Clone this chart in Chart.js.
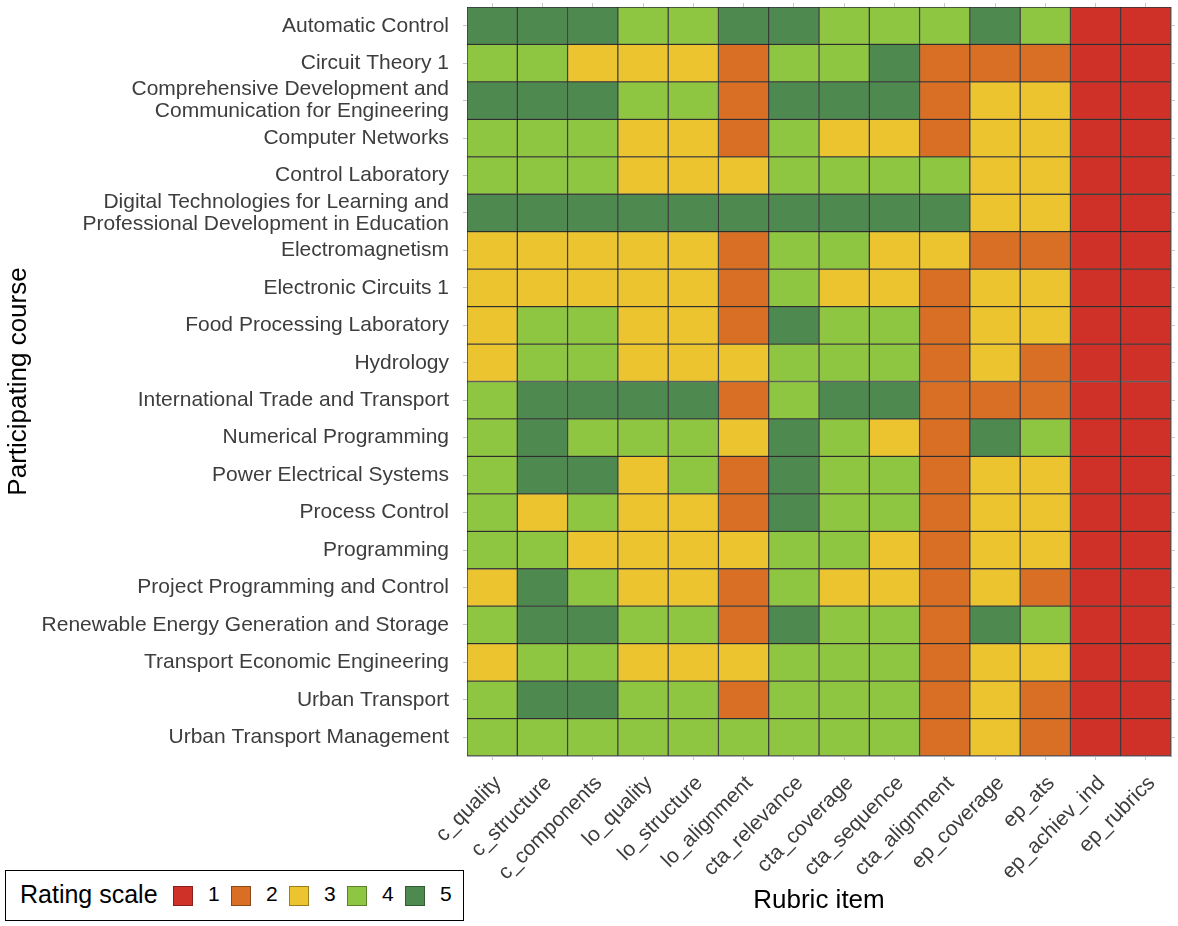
<!DOCTYPE html>
<html lang="en">
<head>
    <meta charset="UTF-8">
    <title>Rubric ratings per course</title>
    <script src="https://cdn.jsdelivr.net/npm/chart.js"></script>
    <style>
        body {
            margin: 0;
            padding: 0;
            background: #fff;
            font-family: "Liberation Sans", Arial, sans-serif;
        }

        .chart-container {
            width: 1178px;
            height: 926px;
            position: relative;
        }

        .legend-box {
            position: absolute;
            left: 5px;
            top: 870px;
            width: 457px;
            height: 49px;
            border: 1.5px solid #000;
            background: #fff;
        }

        .legend-title {
            position: absolute;
            left: 14px;
            top: 9px;
            font-size: 25px;
            color: #000;
        }

        .legend-swatch {
            position: absolute;
            top: 15px;
            width: 18px;
            height: 18px;
            border: 1px solid rgba(0, 0, 0, 0.35);
        }

        .legend-label {
            position: absolute;
            top: 11px;
            font-size: 21px;
            color: #000;
        }
    </style>
</head>
<body>
    <div class="chart-container">
        <canvas id="rubricChart"></canvas>
        <div class="legend-box" id="legend">
            <span class="legend-title">Rating scale</span>
        </div>
    </div>

    <script>
        const courses = [
            'Automatic Control',
            'Circuit Theory 1',
            ['Comprehensive Development and', 'Communication for Engineering'],
            'Computer Networks',
            'Control Laboratory',
            ['Digital Technologies for Learning and', 'Professional Development in Education'],
            'Electromagnetism',
            'Electronic Circuits 1',
            'Food Processing Laboratory',
            'Hydrology',
            'International Trade and Transport',
            'Numerical Programming',
            'Power Electrical Systems',
            'Process Control',
            'Programming',
            'Project Programming and Control',
            'Renewable Energy Generation and Storage',
            'Transport Economic Engineering',
            'Urban Transport',
            'Urban Transport Management'
        ];

        const rubricItems = ['c_quality', 'c_structure', 'c_components', 'lo_quality', 'lo_structure',
            'lo_alignment', 'cta_relevance', 'cta_coverage', 'cta_sequence', 'cta_alignment',
            'ep_coverage', 'ep_ats', 'ep_achiev_ind', 'ep_rubrics'];

        // ratings per rubric item, one value per course (same order as courses)
        const c_quality     = [5, 4, 5, 4, 4, 5, 3, 3, 3, 3, 4, 4, 4, 4, 4, 3, 4, 3, 4, 4];
        const c_structure   = [5, 4, 5, 4, 4, 5, 3, 3, 4, 4, 5, 5, 5, 3, 4, 5, 5, 4, 5, 4];
        const c_components  = [5, 3, 5, 4, 4, 5, 3, 3, 4, 4, 5, 4, 5, 4, 3, 4, 5, 4, 5, 4];
        const lo_quality    = [4, 3, 4, 3, 3, 5, 3, 3, 3, 3, 5, 4, 3, 3, 3, 3, 4, 3, 4, 4];
        const lo_structure  = [4, 3, 4, 3, 3, 5, 3, 3, 3, 3, 5, 4, 4, 3, 3, 3, 4, 3, 4, 4];
        const lo_alignment  = [5, 2, 2, 2, 3, 5, 2, 2, 2, 3, 2, 3, 2, 2, 3, 2, 2, 3, 2, 4];
        const cta_relevance = [5, 4, 5, 4, 4, 5, 4, 4, 5, 4, 4, 5, 5, 5, 4, 4, 5, 4, 4, 4];
        const cta_coverage  = [4, 4, 5, 3, 4, 5, 4, 3, 4, 4, 5, 4, 4, 4, 4, 3, 4, 4, 4, 4];
        const cta_sequence  = [4, 5, 5, 3, 4, 5, 3, 3, 4, 4, 5, 3, 4, 4, 3, 3, 4, 4, 4, 4];
        const cta_alignment = [4, 2, 2, 2, 4, 5, 3, 2, 2, 2, 2, 2, 2, 2, 2, 2, 2, 2, 2, 2];
        const ep_coverage   = [5, 2, 3, 3, 3, 3, 2, 3, 3, 3, 2, 5, 3, 3, 3, 3, 5, 3, 3, 3];
        const ep_ats        = [4, 2, 3, 3, 3, 3, 2, 3, 3, 2, 2, 4, 3, 3, 3, 2, 4, 3, 2, 2];
        const ep_achiev_ind = [1, 1, 1, 1, 1, 1, 1, 1, 1, 1, 1, 1, 1, 1, 1, 1, 1, 1, 1, 1];
        const ep_rubrics    = [1, 1, 1, 1, 1, 1, 1, 1, 1, 1, 1, 1, 1, 1, 1, 1, 1, 1, 1, 1];

        const ratingColumns = [c_quality, c_structure, c_components, lo_quality, lo_structure,
            lo_alignment, cta_relevance, cta_coverage, cta_sequence, cta_alignment,
            ep_coverage, ep_ats, ep_achiev_ind, ep_rubrics];

        const ratingLevels = [1, 2, 3, 4, 5];
        const palette = ['#cf3128', '#d86f24', '#ecc430', '#8fc641', '#4e8a4f'];

        // each rubric item is one stacked segment of width 1 per course row
        const datasets = rubricItems.map((item, col) => ({
            label: item,
            data: courses.map(() => 1),
            backgroundColor: ctx => palette[ratingColumns[col][ctx.dataIndex] - 1],
            borderColor: 'rgba(0, 0, 0, 0.7)',
            borderWidth: 1,
            borderSkipped: false,
            barPercentage: 1,
            categoryPercentage: 1
        }));

        const centerTicks = scale => {
            scale.ticks = rubricItems.map((_, i) => ({ value: i + 0.5 }));
        };

        const tickGrid = {
            drawOnChartArea: false,
            tickLength: 4,
            tickColor: '#c8c8c8',
            offset: false
        };

        const axisBorder = { display: true, color: '#a9abb8', width: 1 };

        const ctx = document.getElementById('rubricChart').getContext('2d');
        new Chart(ctx, {
            type: 'bar',
            data: {
                labels: courses,
                datasets: datasets
            },
            options: {
                indexAxis: 'y',
                responsive: true,
                maintainAspectRatio: false,
                animation: false,
                layout: { padding: 0 },
                scales: {
                    x: {
                        type: 'linear',
                        position: 'bottom',
                        stacked: true,
                        min: 0,
                        max: rubricItems.length,
                        afterBuildTicks: centerTicks,
                        afterFit: scale => { scale.height = 170; },
                        grid: tickGrid,
                        border: axisBorder,
                        ticks: {
                            autoSkip: false,
                            minRotation: 45,
                            maxRotation: 45,
                            padding: 11,
                            labelOffset: 6,
                            color: '#3d3d3d',
                            font: { family: 'Liberation Sans', size: 21 },
                            callback: (value, index) => rubricItems[index]
                        },
                        title: {
                            display: true,
                            text: 'Rubric item',
                            color: '#000',
                            font: { family: 'Liberation Sans', size: 26 },
                            padding: { top: 0, bottom: 10 }
                        }
                    },
                    x2: {
                        type: 'linear',
                        position: 'top',
                        min: 0,
                        max: rubricItems.length,
                        afterBuildTicks: centerTicks,
                        afterFit: scale => { scale.height = 7; },
                        grid: tickGrid,
                        border: axisBorder,
                        ticks: { display: false }
                    },
                    y: {
                        type: 'category',
                        position: 'left',
                        stacked: true,
                        offset: true,
                        afterFit: scale => {
                            scale.width = 467;
                            scale.paddingTop = 0;
                            scale.paddingBottom = 0;
                        },
                        grid: tickGrid,
                        border: axisBorder,
                        ticks: {
                            autoSkip: false,
                            padding: 14,
                            color: '#3d3d3d',
                            font: { family: 'Liberation Sans', size: 21, lineHeight: 1.05 }
                        },
                        title: {
                            display: true,
                            text: 'Participating course',
                            color: '#000',
                            font: { family: 'Liberation Sans', size: 26 },
                            padding: { top: 3, bottom: 0 }
                        }
                    },
                    y2: {
                        type: 'category',
                        position: 'right',
                        offset: true,
                        afterFit: scale => {
                            scale.width = 7;
                            scale.paddingTop = 0;
                            scale.paddingBottom = 0;
                        },
                        grid: tickGrid,
                        border: axisBorder,
                        ticks: { display: false }
                    }
                },
                plugins: {
                    legend: { display: false },
                    tooltip: {
                        callbacks: {
                            label: item => `${item.dataset.label}: ${ratingColumns[item.datasetIndex][item.dataIndex]}`
                        }
                    }
                }
            }
        });

        // rating scale legend
        const legend = document.getElementById('legend');
        ratingLevels.forEach((level, i) => {
            const sw = document.createElement('span');
            sw.className = 'legend-swatch';
            sw.style.left = (167 + i * 58) + 'px';
            sw.style.background = palette[i];
            legend.appendChild(sw);

            const lab = document.createElement('span');
            lab.className = 'legend-label';
            lab.style.left = (202 + i * 58) + 'px';
            lab.textContent = level;
            legend.appendChild(lab);
        });
    </script>
</body>
</html>
